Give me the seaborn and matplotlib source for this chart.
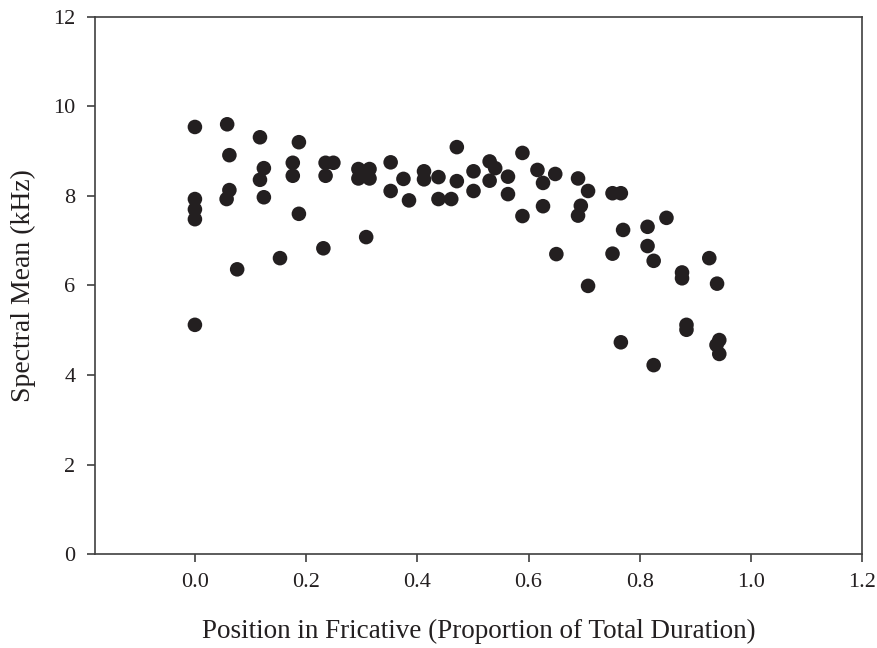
import pandas as pd
import matplotlib.pyplot as plt
import seaborn as sns

# Position in fricative (proportion of total duration)
position = [
    0.0, 0.0, 0.0, 0.0, 0.0,
    0.058, 0.062, 0.062, 0.057, 0.076,
    0.117, 0.124, 0.117, 0.124, 0.153,
    0.176, 0.176, 0.187, 0.187, 0.231,
    0.235, 0.249, 0.235, 0.294, 0.314,
    0.294, 0.314, 0.308, 0.352, 0.352,
    0.375, 0.385, 0.412, 0.412, 0.438,
    0.438, 0.461, 0.471, 0.471, 0.501,
    0.501, 0.530, 0.540, 0.530, 0.563,
    0.563, 0.589, 0.589, 0.616, 0.626,
    0.626, 0.648, 0.650, 0.689, 0.707,
    0.694, 0.689, 0.707, 0.751, 0.766,
    0.770, 0.751, 0.766, 0.814, 0.814,
    0.825, 0.825, 0.848, 0.876, 0.876,
    0.884, 0.884, 0.925, 0.939, 0.943,
    0.938, 0.943,
]

# Spectral mean (kHz)
spectral_mean = [
    9.54, 7.93, 7.70, 7.48, 5.12,
    9.60, 8.91, 8.13, 7.93, 6.36,
    9.31, 8.62, 8.36, 7.97, 6.61,
    8.74, 8.45, 9.20, 7.60, 6.83,
    8.74, 8.74, 8.45, 8.60, 8.60,
    8.39, 8.39, 7.08, 8.75, 8.11,
    8.38, 7.90, 8.55, 8.37, 8.42,
    7.93, 7.93, 9.09, 8.33, 8.55,
    8.11, 8.77, 8.62, 8.34, 8.43,
    8.04, 8.96, 7.55, 8.58, 8.29,
    7.77, 8.49, 6.70, 8.39, 8.11,
    7.78, 7.56, 5.99, 8.06, 8.06,
    7.24, 6.71, 4.73, 7.31, 6.88,
    6.55, 4.22, 7.51, 6.29, 6.16,
    5.12, 5.01, 6.61, 6.04, 4.78,
    4.67, 4.47,
]

x_ticks = [0.0, 0.2, 0.4, 0.6, 0.8, 1.0, 1.2]
y_ticks = [0, 2, 4, 6, 8, 10, 12]


def main():
    sns.set_style("ticks")
    plt.rcParams['font.family'] = ['Liberation Serif', 'DejaVu Serif']

    data = pd.DataFrame({'pos': position, 'mean': spectral_mean})

    fig = plt.figure(figsize=(8.78, 6.48), dpi=100)
    ax = fig.add_axes([0.108, 0.145, 0.874, 0.829])

    sns.scatterplot(data=data, x='pos', y='mean', ax=ax, s=110,
                    color='#231f20', edgecolor='none', linewidth=0)

    ax.set_xlim(-0.18, 1.2)
    ax.set_ylim(0, 12)
    ax.set_xticks(x_ticks)
    ax.set_xticklabels([f'{t:.1f}' for t in x_ticks])
    ax.set_yticks(y_ticks)

    for side in ['top', 'right', 'left', 'bottom']:
        ax.spines[side].set_visible(True)
        ax.spines[side].set_color('#404040')
        ax.spines[side].set_linewidth(1.2)

    ax.tick_params(axis='both', direction='out', length=6, width=1.2,
                   color='#404040', labelsize=16, labelcolor='#231f20', pad=8)
    ax.tick_params(top=False, right=False)

    ax.set_xlabel('Position in Fricative (Proportion of Total Duration)',
                  fontsize=19.5, color='#231f20', labelpad=19)
    ax.set_ylabel('Spectral Mean (kHz)', fontsize=20, color='#231f20',
                  labelpad=12)

    fig.savefig('out.png', dpi=100)


if __name__ == "__main__":
    main()
